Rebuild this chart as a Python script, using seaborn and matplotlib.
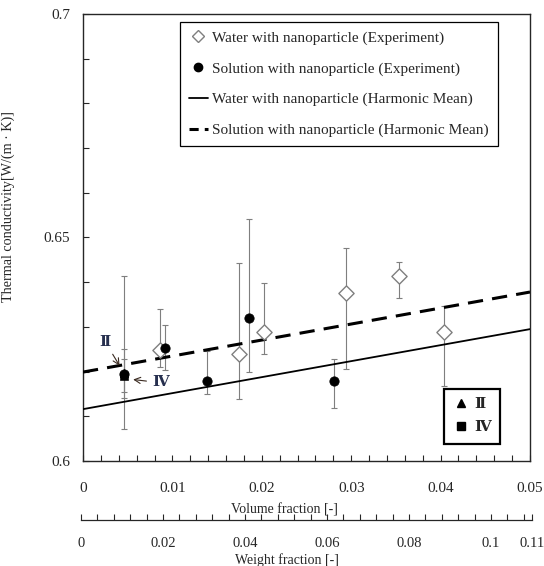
import numpy as np
import pandas as pd
import matplotlib
matplotlib.use("Agg")
import matplotlib.pyplot as plt
from matplotlib.lines import Line2D
from matplotlib.ticker import MultipleLocator, FixedLocator
import seaborn as sns

# data
water_x = [0.0086, 0.0174, 0.0203, 0.0294, 0.0354, 0.0404]
water_y = [0.6248, 0.6239, 0.6288, 0.6375, 0.6414, 0.6288]
water_hi = [0.6339, 0.6442, 0.6399, 0.6476, 0.6445, 0.6347]
water_lo = [0.6210, 0.6138, 0.6239, 0.6205, 0.6364, 0.6168]

sol_x = [0.0046, 0.0092, 0.0139, 0.0186, 0.0281]
sol_y = [0.6195, 0.6253, 0.6180, 0.6320, 0.6179]
sol_hi = [0.6414, 0.6304, 0.6247, 0.6541, 0.6229]
sol_lo = [0.6072, 0.6203, 0.6149, 0.6198, 0.6119]

# samples II and IV (first solution point)
sample_x = [0.0046, 0.0046]
sample_y = [0.6197, 0.6190]
sample_hi = [0.6250, 0.6229]
sample_lo = [0.6140, 0.6155]

line_x = [0.0, 0.05]
water_hm = [0.6116, 0.6295]
solution_hm = [0.6199, 0.6378]

volume_ticks = [0, 0.01, 0.02, 0.03, 0.04, 0.05]
volume_tick_labels = ["0", "0.01", "0.02", "0.03", "0.04", "0.05"]
weight_ticks = [0, 0.02, 0.04, 0.06, 0.08, 0.1, 0.11]
weight_tick_labels = ["0", "0.02", "0.04", "0.06", "0.08", "0.1", "0.11"]
k_ticks = [0.6, 0.65, 0.7]
k_tick_labels = ["0.6", "0.65", "0.7"]

sns.set_style("ticks")
plt.rcParams['font.family'] = ['Liberation Serif', 'DejaVu Serif']

fig = plt.figure(figsize=(5.44, 5.66), dpi=100)
ax = fig.add_axes([83/544, 1-461/566, 447/544, 447/566])

gray = "#7f7f7f"
for xs, ys, lo, hi in [(water_x, water_y, water_lo, water_hi),
                       (sol_x, sol_y, sol_lo, sol_hi),
                       (sample_x, sample_y, sample_lo, sample_hi)]:
    ys = np.array(ys)
    ax.errorbar(xs, ys, yerr=[ys - np.array(lo), np.array(hi) - ys],
                fmt="none", ecolor=gray, elinewidth=0.8, capsize=2, capthick=0.8, zorder=2)

lines = pd.DataFrame({"x": line_x, "water": water_hm, "solution": solution_hm})
sns.lineplot(data=lines, x="x", y="water", color="black", lw=1.3, ax=ax, zorder=3)
sns.lineplot(data=lines, x="x", y="solution", color="black", lw=2.2, ax=ax, zorder=3)
ax.lines[-1].set_dashes([5, 3])

sns.scatterplot(x=water_x, y=water_y, marker="D", s=60, facecolor="white",
                edgecolor=gray, linewidth=1.0, ax=ax, zorder=4)
sns.scatterplot(x=sol_x, y=sol_y, marker="o", s=45, color="black",
                edgecolor="black", ax=ax, zorder=5)
sns.scatterplot(x=sample_x[:1], y=sample_y[:1], marker="^", s=35, color="black",
                edgecolor="black", ax=ax, zorder=5)
sns.scatterplot(x=sample_x[1:], y=sample_y[1:], marker="s", s=30, color="black",
                edgecolor="black", ax=ax, zorder=5)

ax.set_xlim(0, 0.05)
ax.set_ylim(0.6, 0.7)
ax.xaxis.set_major_locator(FixedLocator(volume_ticks))
ax.xaxis.set_minor_locator(MultipleLocator(0.002))
ax.yaxis.set_major_locator(FixedLocator(k_ticks))
ax.yaxis.set_minor_locator(MultipleLocator(0.01))
ax.set_xticklabels(volume_tick_labels)
ax.set_yticklabels(k_tick_labels)
ax.tick_params(axis="both", which="both", direction="in", length=4, width=0.8,
               labelsize=11)
ax.tick_params(axis="x", which="both", pad=15)
ax.tick_params(axis="y", which="both", pad=9)
for sp in ax.spines.values():
    sp.set_visible(True)
    sp.set_linewidth(1.0)

ax.set_xlabel("Volume fraction [-]", fontsize=10)
ax.xaxis.set_label_coords((284-83)/447, (461-503)/447)
ax.set_ylabel("Thermal conductivity[W/(m · K)]", fontsize=10.2)
ax.yaxis.set_label_coords(-0.152, 0.57)

handles = [
    Line2D([], [], marker="D", ls="none", markerfacecolor="white", markeredgecolor=gray,
           markersize=6),
    Line2D([], [], marker="o", ls="none", color="black", markersize=6),
    Line2D([], [], color="black", lw=1.3),
    Line2D([], [], color="black", lw=2.2, dashes=[3, 2]),
]
labels = ["Water with nanoparticle (Experiment)",
          "Solution with nanoparticle (Experiment)",
          "Water with nanoparticle (Harmonic Mean)",
          "Solution with nanoparticle (Harmonic Mean)"]
leg = ax.legend(handles, labels, loc="upper right", bbox_to_anchor=(0.935, 0.989),
                fontsize=11, frameon=True, fancybox=False, edgecolor="black",
                framealpha=1, handlelength=1.2, handletextpad=0.3,
                labelspacing=1.1, borderpad=0.6, borderaxespad=0.2)
leg.get_frame().set_linewidth(0.9)
ax.add_artist(leg)

h2 = [Line2D([], [], marker="^", ls="none", color="black", markersize=6),
      Line2D([], [], marker="s", ls="none", color="black", markersize=6)]
leg2 = ax.legend(h2, ["Ⅱ", "Ⅳ"], loc="lower right", bbox_to_anchor=(0.951, 0.022),
                 frameon=True, fancybox=False, edgecolor="black",
                 framealpha=1, handlelength=1.0, handletextpad=0.4,
                 labelspacing=0.6, borderpad=0.6, prop={"weight": "bold", "size": 11})
leg2.get_frame().set_linewidth(1.6)

ax.annotate("Ⅱ", xy=(0.00425, 0.6208), xytext=(0.0025, 0.6266),
            fontsize=11, fontweight="bold", color="#27304f", ha="center", va="center",
            arrowprops=dict(arrowstyle="->", color="#3a2a20", lw=0.8))
ax.annotate("Ⅳ", xy=(0.0053, 0.6183), xytext=(0.0087, 0.6175),
            fontsize=11, fontweight="bold", color="#27304f", ha="center", va="center",
            arrowprops=dict(arrowstyle="->", color="#3a2a20", lw=0.8))

# weight fraction axis below
ax2 = fig.add_axes([81/544, 1-520/566, 451/544, 0.001])
ax2.set_xlim(0, 0.11)
ax2.set_ylim(0, 1)
for side in ["top", "left", "right"]:
    ax2.spines[side].set_visible(False)
ax2.spines["bottom"].set_linewidth(0.9)
ax2.yaxis.set_visible(False)
ax2.xaxis.set_major_locator(FixedLocator(weight_ticks))
ax2.xaxis.set_minor_locator(MultipleLocator(0.004))
ax2.set_xticklabels(weight_tick_labels)
ax2.tick_params(axis="x", which="both", direction="in", length=4, width=0.8,
                labelsize=10.5, pad=12)
ax2.patch.set_visible(False)
fig.text(287/544, 1-560/566, "Weight fraction [-]", ha="center", va="center", fontsize=10)

fig.savefig("out.png", dpi=100)
